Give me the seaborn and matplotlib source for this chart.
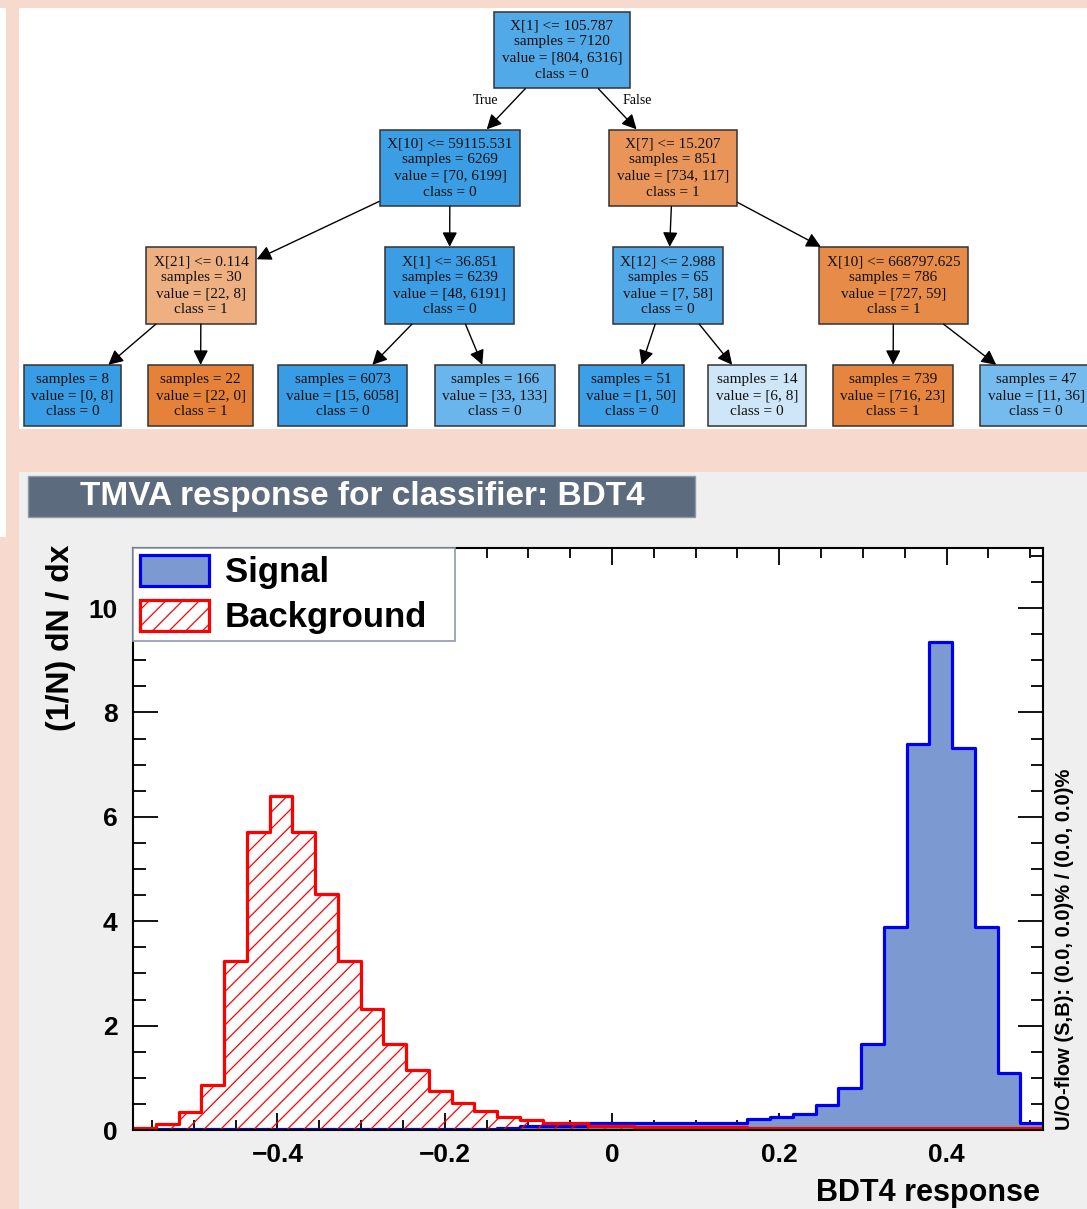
import numpy as np
import pandas as pd
import matplotlib
matplotlib.use('Agg')
import matplotlib.pyplot as plt
from matplotlib.patches import Rectangle, Patch
from matplotlib.ticker import MultipleLocator
import seaborn as sns

# ---------------- data ----------------
# decision tree (sklearn export_graphviz look)
split_rules = ['X[1] <= 105.787', 'X[10] <= 59115.531', 'X[7] <= 15.207',
               'X[21] <= 0.114', 'X[1] <= 36.851', 'X[12] <= 2.988', 'X[10] <= 668797.625',
               None, None, None, None, None, None, None, None]
node_samples = [7120, 6269, 851, 30, 6239, 65, 786, 8, 22, 6073, 166, 51, 14, 739, 47]
node_values = [[804, 6316], [70, 6199], [734, 117], [22, 8], [48, 6191], [7, 58], [727, 59],
               [0, 8], [22, 0], [15, 6058], [33, 133], [1, 50], [6, 8], [716, 23], [11, 36]]
node_class = [0, 0, 1, 1, 0, 0, 1, 0, 1, 0, 0, 0, 0, 1, 0]
node_parent = [None, 0, 0, 1, 1, 2, 2, 3, 3, 4, 4, 5, 5, 6, 6]

# TMVA response, 40 bins, normalised (1/N) dN/dx
x_lo, x_hi, n_bins = -0.5726, 0.5152, 40
signal = [0.0, 0.02, 0.02, 0.02, 0.02, 0.02, 0.02, 0.02, 0.02, 0.02,
          0.02, 0.02, 0.02, 0.02, 0.02, 0.02, 0.03, 0.07, 0.07, 0.07,
          0.14, 0.14, 0.14, 0.14, 0.14, 0.14, 0.14, 0.21, 0.24, 0.31,
          0.48, 0.80, 1.65, 3.88, 7.39, 9.35, 7.32, 3.88, 1.10, 0.13]
background = [0.04, 0.12, 0.34, 0.87, 3.24, 5.70, 6.40, 5.70, 4.52, 3.24,
              2.32, 1.65, 1.14, 0.75, 0.51, 0.36, 0.24, 0.19, 0.13, 0.13,
              0.08, 0.08, 0.05, 0.05, 0.05, 0.05, 0.05, 0.03, 0.03, 0.03,
              0.03, 0.03, 0.03, 0.03, 0.03, 0.03, 0.03, 0.03, 0.03, 0.03]

# ---------------- layout (pixels) ----------------
W, H = 1087, 1209
node_x = [562, 450, 673, 201, 449.5, 668, 893.5, 72.5, 200.5, 342.5, 495, 631.5, 757, 893, 1036]
level_y = [50, 168, 285.5, 395.5]
node_level = [0, 1, 1, 2, 2, 2, 2, 3, 3, 3, 3, 3, 3, 3, 3]

peach = '#f8d9cd'

sns.set_style('ticks')
plt.rcParams['font.family'] = ['Liberation Sans', 'DejaVu Sans']
plt.rcParams['text.color'] = 'black'
plt.rcParams['axes.labelcolor'] = 'black'
plt.rcParams['xtick.color'] = 'black'
plt.rcParams['ytick.color'] = 'black'
plt.rcParams['hatch.color'] = 'red'
plt.rcParams['hatch.linewidth'] = 0.9

fig = plt.figure(figsize=(W / 100, H / 100), dpi=100, facecolor=peach)


def px_rect(x0, y0, x1, y1, color, ec='none', lw=0, z=-5):
    r = Rectangle((x0 / W, 1 - y1 / H), (x1 - x0) / W, (y1 - y0) / H,
                  transform=fig.transFigure, facecolor=color, edgecolor=ec,
                  linewidth=lw, zorder=z)
    fig.add_artist(r)


# page pieces
px_rect(0, 8, 6, 537, 'white')
px_rect(19, 8, W, 429, 'white')
px_rect(19, 472, W, H, '#efefef')
px_rect(28, 476, 695, 517, '#5d6b7e', ec='#8e99a7', lw=1.0, z=-4)
fig.text(362 / W, 1 - 497 / H, 'TMVA response for classifier: BDT4', color='white',
         fontsize=24, fontweight='bold', ha='center', va='center')

# ---------------- tree ----------------
ax_t = fig.add_axes([19 / W, 1 - 429 / H, (W - 19) / W, (429 - 8) / H])
ax_t.set_xlim(19, W)
ax_t.set_ylim(429, 8)
ax_t.set_axis_off()


def node_color(v):
    frac = np.array(v, dtype=float) / sum(v)
    i = int(np.argmax(frac))
    second = np.sort(frac)[-2]
    alpha = (frac[i] - second) / (1 - second)
    base = [(229, 129, 57), (57, 157, 229)][i]
    return tuple(round(alpha * c + (1 - alpha) * 255) / 255 for c in base)


boxes = []
for k in range(len(node_samples)):
    lines = []
    if split_rules[k] is not None:
        lines.append(split_rules[k])
    lines.append(f'samples = {node_samples[k]}')
    lines.append(f'value = [{node_values[k][0]}, {node_values[k][1]}]')
    lines.append(f'class = {node_class[k]}')
    t = ax_t.text(node_x[k], level_y[node_level[k]], '\n'.join(lines),
                  ha='center', va='center', fontsize=11, linespacing=1.3,
                  family=['Liberation Serif', 'DejaVu Serif'], color='#111111',
                  bbox=dict(boxstyle='square,pad=0.5', facecolor=node_color(node_values[k]),
                            edgecolor='#333333', linewidth=1.1))
    boxes.append(t)

for k, p in enumerate(node_parent):
    if p is None:
        continue
    ax_t.annotate('', xy=(node_x[k], level_y[node_level[k]]),
                  xytext=(node_x[p], level_y[node_level[p]]),
                  arrowprops=dict(arrowstyle='-|>,head_length=0.55,head_width=0.28',
                                  mutation_scale=16, color='black', lw=1.0,
                                  patchA=boxes[p].get_bbox_patch(),
                                  patchB=boxes[k].get_bbox_patch(),
                                  shrinkA=0, shrinkB=0))

ax_t.text(486, 100, 'True', ha='center', va='center', fontsize=10,
          family=['Liberation Serif', 'DejaVu Serif'])
ax_t.text(637, 100, 'False', ha='center', va='center', fontsize=10,
          family=['Liberation Serif', 'DejaVu Serif'])

# ---------------- TMVA histogram ----------------
ax = fig.add_axes([133 / W, 1 - 1130 / H, 910 / W, 582 / H])
ax.set_facecolor('white')

edges = np.linspace(x_lo, x_hi, n_bins + 1)
centers = (edges[:-1] + edges[1:]) / 2
df = pd.DataFrame({'response': np.concatenate([centers, centers]),
                   'density': signal + background,
                   'kind': ['Signal'] * n_bins + ['Background'] * n_bins})

sns.histplot(data=df[df['kind'] == 'Signal'], x='response', weights='density',
             bins=n_bins, binrange=(x_lo, x_hi), element='step', fill=True,
             color='#0000ee', facecolor='#7d99d1', edgecolor='#0000ee',
             linewidth=2.3, ax=ax)
sns.histplot(data=df[df['kind'] == 'Background'], x='response', weights='density',
             bins=n_bins, binrange=(x_lo, x_hi), element='step', fill=True,
             color='red', facecolor=(1, 1, 1, 0), edgecolor='red', hatch='//',
             linewidth=2.3, ax=ax)

ax.set_xlim(x_lo, x_hi)
ax.set_ylim(0, 11.15)
ax.set_xticks([-0.4, -0.2, 0, 0.2, 0.4])
ax.set_xticklabels(['\u22120.4', '\u22120.2', '0', '0.2', '0.4'])
ax.xaxis.set_minor_locator(MultipleLocator(0.05))
ax.yaxis.set_major_locator(MultipleLocator(2))
ax.yaxis.set_minor_locator(MultipleLocator(0.5))

ax.tick_params(which='both', direction='in', top=True, right=True, width=1.3,
               colors='black', labelsize=19)
ax.tick_params(axis='y', which='major', length=18, pad=11)
ax.tick_params(axis='y', which='minor', length=9)
ax.tick_params(axis='x', which='major', length=12, pad=9)
ax.tick_params(axis='x', which='minor', length=7)
for lbl in ax.get_xticklabels() + ax.get_yticklabels():
    lbl.set_fontweight('bold')
for s in ax.spines.values():
    s.set_visible(True)
    s.set_color('black')
    s.set_linewidth(1.5)

ax.set_ylabel('(1/N) dN / dx', fontsize=23, fontweight='bold', loc='top')
ax.yaxis.set_label_coords(-(133 - 76) / 910, 1.005)
ax.set_xlabel('BDT4 response', fontsize=22, fontweight='bold', loc='right')
ax.xaxis.set_label_coords(0.997, -0.082)

handles = [Patch(facecolor='#7d99d1', edgecolor='#0000ee', linewidth=2.3, label='Signal'),
           Patch(facecolor='white', edgecolor='red', hatch='//', linewidth=2.3, label='Background')]
leg = ax.legend(handles=handles, loc='upper left', bbox_to_anchor=(0, 1, 322 / 910, 0),
                mode='expand', borderaxespad=0,
                prop={'weight': 'bold', 'size': 25}, handlelength=2.0, handleheight=1.0,
                handletextpad=0.45, labelspacing=0.3, borderpad=0.2, fancybox=False,
                framealpha=1, edgecolor='#8d9ab0')
leg.get_frame().set_linewidth(1.2)

fig.text(1065 / W, 1 - 1130 / H, 'U/O-flow (S,B): (0.0, 0.0)% / (0.0, 0.0)%',
         rotation=90, ha='center', va='bottom', fontsize=14.5, fontweight='bold')

fig.savefig('out.png', dpi=100, facecolor=fig.get_facecolor())
